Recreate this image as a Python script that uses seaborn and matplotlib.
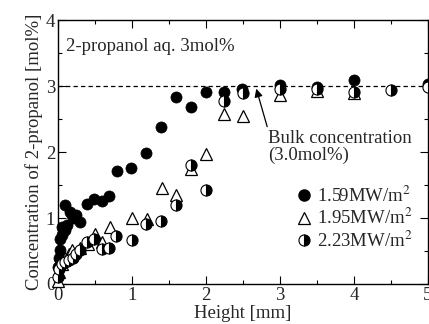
import matplotlib

matplotlib.use("Agg")

import matplotlib.pyplot as plt
import pandas as pd
import seaborn as sns
from matplotlib.lines import Line2D
from matplotlib.ticker import MultipleLocator

# 1.59 MW/m2 (filled circles)
h_159 = [0.0, 0.01, 0.03, 0.03, 0.05, 0.06, 0.1, 0.1, 0.12, 0.16, 0.19, 0.22, 0.25, 0.3,
         0.39, 0.49, 0.59, 0.69, 0.8, 0.99, 1.19, 1.39, 1.59, 1.8, 2.0, 2.24, 2.49, 3.0,
         3.5, 4.0, 5.0]
c_159 = [0.26, 0.4, 0.52, 0.68, 0.75, 0.86, 1.2, 0.82, 0.9, 1.09, 1.05, 1.0, 1.05, 0.94,
         1.21, 1.29, 1.26, 1.33, 1.71, 1.76, 1.98, 2.38, 2.84, 2.69, 2.91, 2.91, 2.96, 3.01,
         2.98, 3.09, 3.03]

# 1.95 MW/m2 (open triangles)
h_195 = [0.0, 0.02, 0.05, 0.08, 0.1, 0.15, 0.19, 0.3, 0.4, 0.5, 0.6, 0.7, 1.0, 1.2, 1.4,
         1.6, 1.8, 2.0, 2.24, 2.5, 3.0, 3.5, 4.0]
c_195 = [0.05, 0.18, 0.3, 0.36, 0.4, 0.45, 0.52, 0.55, 0.6, 0.76, 0.64, 0.86, 1.0, 0.98,
         1.46, 1.35, 1.75, 1.97, 2.58, 2.55, 2.86, 2.92, 2.9]

# 2.23 MW/m2 (half-filled circles)
h_223 = [0.0, 0.02, 0.05, 0.1, 0.15, 0.2, 0.25, 0.3, 0.39, 0.49, 0.59, 0.69, 0.79, 1.0,
         1.19, 1.39, 1.59, 1.8, 2.0, 2.24, 2.5, 3.0, 3.5, 4.0, 4.5, 5.0]
c_223 = [0.1, 0.22, 0.3, 0.33, 0.36, 0.4, 0.45, 0.52, 0.64, 0.68, 0.53, 0.55, 0.73, 0.66,
         0.91, 0.95, 1.2, 1.8, 1.42, 2.78, 2.89, 2.95, 2.95, 2.91, 2.94, 2.98]

labels = ["1.59MW/m$^2$", "1.95MW/m$^2$", "2.23MW/m$^2$"]
bulk = 3.0

sns.set_theme(style="ticks")
plt.rcParams["font.family"] = ["Liberation Serif", "DejaVu Serif"]
plt.rcParams["mathtext.fontset"] = "stix"

fig = plt.figure(figsize=(4.29, 3.24), dpi=100)
ax = fig.add_axes([0.135, 0.1235, 0.8627, 0.8145])

df1 = pd.DataFrame({"h": h_159, "c": c_159})
df2 = pd.DataFrame({"h": h_195, "c": c_195})
df3 = pd.DataFrame({"h": h_223, "c": c_223})

ax.axhline(bulk, color="black", linestyle=(0, (3.5, 2.5)), linewidth=0.9, zorder=1)

common = dict(x="h", y="c", estimator=None, sort=False, linestyle="", ax=ax,
              clip_on=False, zorder=3)
sns.lineplot(data=df1, marker="o", color="black", markersize=8, markeredgewidth=0.5,
             markerfacecolor="black", markeredgecolor="black", **common)
sns.lineplot(data=df2, marker="^", color="black", markersize=8.5, markeredgewidth=0.9,
             markerfacecolor="white", markeredgecolor="black", **common)
sns.lineplot(data=df3, marker="o", color="black", markersize=8, markeredgewidth=0.8,
             fillstyle="right", markerfacecolor="black", markerfacecoloralt="white",
             markeredgecolor="black", **common)

ax.set_xlim(0, 5)
ax.set_ylim(0, 4)
ax.xaxis.set_major_locator(MultipleLocator(1))
ax.xaxis.set_minor_locator(MultipleLocator(0.5))
ax.yaxis.set_major_locator(MultipleLocator(1))
ax.yaxis.set_minor_locator(MultipleLocator(0.5))
ax.tick_params(which="both", direction="in", top=True, right=True, labelsize=13.5,
               width=0.8, color="black", pad=2)
ax.tick_params(which="major", length=6)
ax.tick_params(which="minor", length=3)
for sp in ax.spines.values():
    sp.set_linewidth(1.0)
    sp.set_color("black")

ax.set_xlabel("Height [mm]", fontsize=13.5, labelpad=1)
ax.set_ylabel("Concentration of 2-propanol [mol%]", fontsize=13.5, labelpad=2)

ax.text(0.11, 3.6, "2-propanol aq. 3mol%", fontsize=13.5, va="center", ha="left")
ax.annotate("Bulk concentration\n(3.0mol%)", xy=(2.68, 2.96), xytext=(2.84, 2.08),
            fontsize=13.5, ha="left", va="center", linespacing=0.95,
            arrowprops=dict(arrowstyle="-|>", color="black", lw=0.9,
                            shrinkA=0, shrinkB=0, mutation_scale=12,
                            relpos=(0.0, 1.0)))

handles = [
    Line2D([0], [0], marker="o", linestyle="", color="black", markersize=8),
    Line2D([0], [0], marker="^", linestyle="", color="black", markerfacecolor="white",
           markersize=8.5, markeredgewidth=0.9),
    Line2D([0], [0], marker="o", linestyle="", color="black", markersize=8,
           fillstyle="right", markerfacecolor="black", markerfacecoloralt="white",
           markeredgewidth=0.8),
]
ax.legend(handles, labels, loc="center left", bbox_to_anchor=(0.625, 0.25), frameon=False,
          fontsize=13.5, handlelength=0.8, handletextpad=0.3, labelspacing=0.12,
          borderaxespad=0)

fig.savefig("out.png", dpi=100, facecolor="white")
